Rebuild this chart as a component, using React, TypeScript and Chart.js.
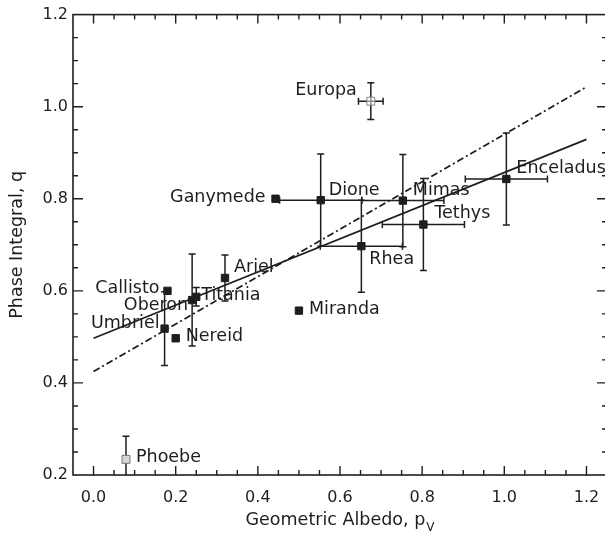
import React, { useEffect, useRef } from 'react';
import { Chart, registerables } from 'chart.js';

Chart.register(...registerables);

// ---- data ----
const MOONS = ['Europa', 'Ganymede', 'Callisto', 'Umbriel', 'Oberon', 'Titania', 'Ariel', 'Nereid', 'Miranda', 'Dione', 'Rhea', 'Mimas', 'Tethys', 'Enceladus', 'Phoebe'];
const ALBEDO = [0.675, 0.443, 0.18, 0.173, 0.24, 0.25, 0.32, 0.2, 0.5, 0.553, 0.652, 0.753, 0.803, 1.005, 0.079];
const PHASE = [1.012, 0.8, 0.6, 0.518, 0.58, 0.587, 0.628, 0.497, 0.557, 0.797, 0.697, 0.796, 0.744, 0.843, 0.234];
const ALBEDO_ERR = [0.03, 0, 0, 0, 0, 0, 0, 0, 0, 0.1, 0.1, 0.1, 0.1, 0.1, 0];
const PHASE_ERR = [0.04, 0, 0, 0.08, 0.1, 0.02, 0.05, 0, 0, 0.1, 0.1, 0.1, 0.1, 0.1, 0.05];
const MARKER_KIND = ['open', 'filled', 'filled', 'filled', 'filled', 'filled', 'filled', 'filled', 'filled', 'filled', 'filled', 'filled', 'filled', 'filled', 'gray'];

const SOLID_FIT_X = [0.0, 1.2];
const SOLID_FIT_Y = [0.497, 0.929];
const DASHDOT_FIT_X = [0.0, 1.2];
const DASHDOT_FIT_Y = [0.425, 1.043];

const X_TICKS = [0.0, 0.2, 0.4, 0.6, 0.8, 1.0, 1.2];
const Y_TICKS = [0.2, 0.4, 0.6, 0.8, 1.0, 1.2];
const X_MIN = -0.05;
const X_MAX = 1.25;
const Y_MIN = 0.2;
const Y_MAX = 1.2;
const MINOR_STEP = 0.05;

const X_TITLE = 'Geometric Albedo, p';
const X_TITLE_SUB = 'V';
const Y_TITLE = 'Phase Integral, q';

// ---- styles (label placement relative to marker, px) ----
const LABEL_STYLE: Record<string, { align: 'left' | 'right'; dx: number; dy: number }> = {
  Europa: { align: 'right', dx: -14, dy: -11 },
  Ganymede: { align: 'right', dx: -10, dy: -1 },
  Callisto: { align: 'right', dx: -8, dy: -2 },
  Umbriel: { align: 'right', dx: -5, dy: -5 },
  Oberon: { align: 'right', dx: -4, dy: 5 },
  Titania: { align: 'left', dx: 5, dy: -1 },
  Ariel: { align: 'left', dx: 9, dy: -10 },
  Nereid: { align: 'left', dx: 10, dy: -2 },
  Miranda: { align: 'left', dx: 10, dy: -1 },
  Dione: { align: 'left', dx: 8, dy: -10 },
  Rhea: { align: 'left', dx: 8, dy: 13 },
  Mimas: { align: 'left', dx: 10, dy: -10 },
  Tethys: { align: 'left', dx: 11, dy: -11 },
  Enceladus: { align: 'left', dx: 10, dy: -11 },
  Phoebe: { align: 'left', dx: 10, dy: -2 },
};

const FONT = '"DejaVu Sans", "Liberation Sans", sans-serif';
const INK = '#1e1e1e';

const errorBarPlugin = {
  id: 'errorBars',
  beforeDatasetsDraw(chart: any) {
    const { ctx, chartArea } = chart;
    const xs = chart.scales.x;
    const ys = chart.scales.y;
    const cap = 3.5;
    ctx.save();
    ctx.beginPath();
    ctx.rect(chartArea.left, chartArea.top, chartArea.right - chartArea.left, chartArea.bottom - chartArea.top);
    ctx.clip();
    ctx.strokeStyle = INK;
    ctx.lineWidth = 1.5;
    for (let i = 0; i < MOONS.length; i++) {
      const px = xs.getPixelForValue(ALBEDO[i]);
      const py = ys.getPixelForValue(PHASE[i]);
      if (PHASE_ERR[i] > 0) {
        const t = ys.getPixelForValue(PHASE[i] + PHASE_ERR[i]);
        const b = ys.getPixelForValue(PHASE[i] - PHASE_ERR[i]);
        ctx.beginPath();
        ctx.moveTo(px, t); ctx.lineTo(px, b);
        ctx.moveTo(px - cap, t); ctx.lineTo(px + cap, t);
        ctx.moveTo(px - cap, b); ctx.lineTo(px + cap, b);
        ctx.stroke();
      }
      if (ALBEDO_ERR[i] > 0) {
        const l = xs.getPixelForValue(ALBEDO[i] - ALBEDO_ERR[i]);
        const r = xs.getPixelForValue(ALBEDO[i] + ALBEDO_ERR[i]);
        ctx.beginPath();
        ctx.moveTo(l, py); ctx.lineTo(r, py);
        ctx.moveTo(l, py - cap); ctx.lineTo(l, py + cap);
        ctx.moveTo(r, py - cap); ctx.lineTo(r, py + cap);
        ctx.stroke();
      }
    }
    ctx.restore();
  },
};

const decorPlugin = {
  id: 'decor',
  afterDatasetsDraw(chart: any) {
    const { ctx, chartArea } = chart;
    const xs = chart.scales.x;
    const ys = chart.scales.y;
    const { left, right, top, bottom } = chartArea;
    ctx.save();

    // point labels
    ctx.fillStyle = INK;
    ctx.font = `17.5px ${FONT}`;
    ctx.textBaseline = 'middle';
    for (let i = 0; i < MOONS.length; i++) {
      const st = LABEL_STYLE[MOONS[i]];
      const px = xs.getPixelForValue(ALBEDO[i]);
      const py = ys.getPixelForValue(PHASE[i]);
      ctx.textAlign = st.align;
      ctx.fillText(MOONS[i], px + st.dx, py + st.dy);
    }

    // frame
    ctx.strokeStyle = INK;
    ctx.lineWidth = 1.6;
    ctx.strokeRect(left, top, right - left, bottom - top);

    // ticks
    ctx.lineWidth = 1.4;
    const isMajor = (v: number, step: number) => Math.abs(v / step - Math.round(v / step)) < 1e-6;
    ctx.beginPath();
    for (let k = Math.ceil(X_MIN / MINOR_STEP); k * MINOR_STEP <= X_MAX + 1e-9; k++) {
      const v = k * MINOR_STEP;
      const p = xs.getPixelForValue(v);
      if (p <= left + 1 || p >= right - 1) continue;
      const len = isMajor(v, 0.2) ? 9 : 5;
      ctx.moveTo(p, bottom); ctx.lineTo(p, bottom - len);
      ctx.moveTo(p, top); ctx.lineTo(p, top + len);
    }
    for (let k = Math.ceil(Y_MIN / MINOR_STEP); k * MINOR_STEP <= Y_MAX + 1e-9; k++) {
      const v = k * MINOR_STEP;
      const p = ys.getPixelForValue(v);
      if (p <= top + 1 || p >= bottom - 1) continue;
      const len = isMajor(v, 0.2) ? 10 : 5;
      ctx.moveTo(left, p); ctx.lineTo(left + len, p);
      ctx.moveTo(right, p); ctx.lineTo(right - len, p);
    }
    ctx.stroke();

    // axis titles
    ctx.fillStyle = INK;
    ctx.textAlign = 'left';
    ctx.textBaseline = 'alphabetic';
    ctx.font = `17.5px ${FONT}`;
    const w1 = ctx.measureText(X_TITLE).width;
    ctx.font = `12px ${FONT}`;
    const w2 = ctx.measureText(X_TITLE_SUB).width;
    const cx = (left + right) / 2;
    const sx = cx - (w1 + w2 + 1) / 2;
    ctx.font = `17.5px ${FONT}`;
    ctx.fillText(X_TITLE, sx, 525);
    ctx.font = `12px ${FONT}`;
    ctx.fillText(X_TITLE_SUB, sx + w1 + 1, 531);

    ctx.save();
    ctx.translate(22, (top + bottom) / 2);
    ctx.rotate(-Math.PI / 2);
    ctx.textAlign = 'center';
    ctx.font = `17.5px ${FONT}`;
    ctx.fillText(Y_TITLE, 0, 0);
    ctx.restore();

    ctx.restore();
  },
};

export default function App() {
  const ref = useRef<HTMLCanvasElement | null>(null);

  useEffect(() => {
    if (!ref.current) return;
    const points = ALBEDO.map((x, i) => ({ x, y: PHASE[i] }));
    const bg = MARKER_KIND.map((k) => (k === 'filled' ? '#1e1e1e' : k === 'gray' ? '#d8d8d8' : 'rgba(255,255,255,0.5)'));
    const bd = MARKER_KIND.map((k) => (k === 'filled' ? '#1e1e1e' : k === 'gray' ? '#777' : '#888'));
    const radius = MARKER_KIND.map((k) => (k === 'filled' ? 5.2 : 5.6));

    const chart = new Chart(ref.current, {
      type: 'scatter',
      data: {
        datasets: [
          {
            label: 'moons',
            data: points,
            pointStyle: 'rect',
            pointRadius: radius,
            pointBackgroundColor: bg,
            pointBorderColor: bd,
            pointBorderWidth: 1,
            order: 0,
          },
          {
            label: 'fit',
            data: SOLID_FIT_X.map((x, i) => ({ x, y: SOLID_FIT_Y[i] })),
            showLine: true,
            borderColor: INK,
            borderWidth: 1.7,
            pointRadius: 0,
            order: 1,
          },
          {
            label: 'fit2',
            data: DASHDOT_FIT_X.map((x, i) => ({ x, y: DASHDOT_FIT_Y[i] })),
            showLine: true,
            borderColor: INK,
            borderWidth: 1.8,
            borderDash: [7, 3, 2, 3],
            pointRadius: 0,
            order: 1,
          },
        ],
      } as any,
      options: {
        responsive: false,
        devicePixelRatio: 1,
        animation: false,
        events: [],
        layout: { padding: { left: 0, top: 10, right: 18, bottom: 0 } },
        plugins: { legend: { display: false }, tooltip: { enabled: false }, title: { display: false } },
        scales: {
          x: {
            type: 'linear',
            min: X_MIN,
            max: X_MAX,
            grid: { display: false, drawTicks: false },
            border: { display: false },
            afterBuildTicks: (scale: any) => { scale.ticks = X_TICKS.map((v) => ({ value: v })); },
            afterFit: (scale: any) => { scale.height = 60; },
            ticks: {
              autoSkip: false,
              maxRotation: 0,
              padding: 13,
              color: INK,
              font: { family: FONT, size: 16 },
              callback: (v: any) => Number(v).toFixed(1),
            },
          },
          y: {
            type: 'linear',
            min: Y_MIN,
            max: Y_MAX,
            grid: { display: false, drawTicks: false },
            border: { display: false },
            afterBuildTicks: (scale: any) => { scale.ticks = Y_TICKS.map((v) => ({ value: v })); },
            afterFit: (scale: any) => { scale.width = 73; },
            ticks: {
              autoSkip: false,
              padding: 5,
              color: INK,
              font: { family: FONT, size: 16 },
              callback: (v: any) => Number(v).toFixed(1),
            },
          },
        },
      } as any,
      plugins: [errorBarPlugin, decorPlugin],
    });
    return () => chart.destroy();
  }, []);

  return (
    <div style={{ position: 'fixed', left: 0, top: 0, width: 605, height: 535, overflow: 'hidden', background: '#fff' }}>
      <canvas ref={ref} width={625} height={535} style={{ display: 'block', width: 625, height: 535 }} />
    </div>
  );
}
